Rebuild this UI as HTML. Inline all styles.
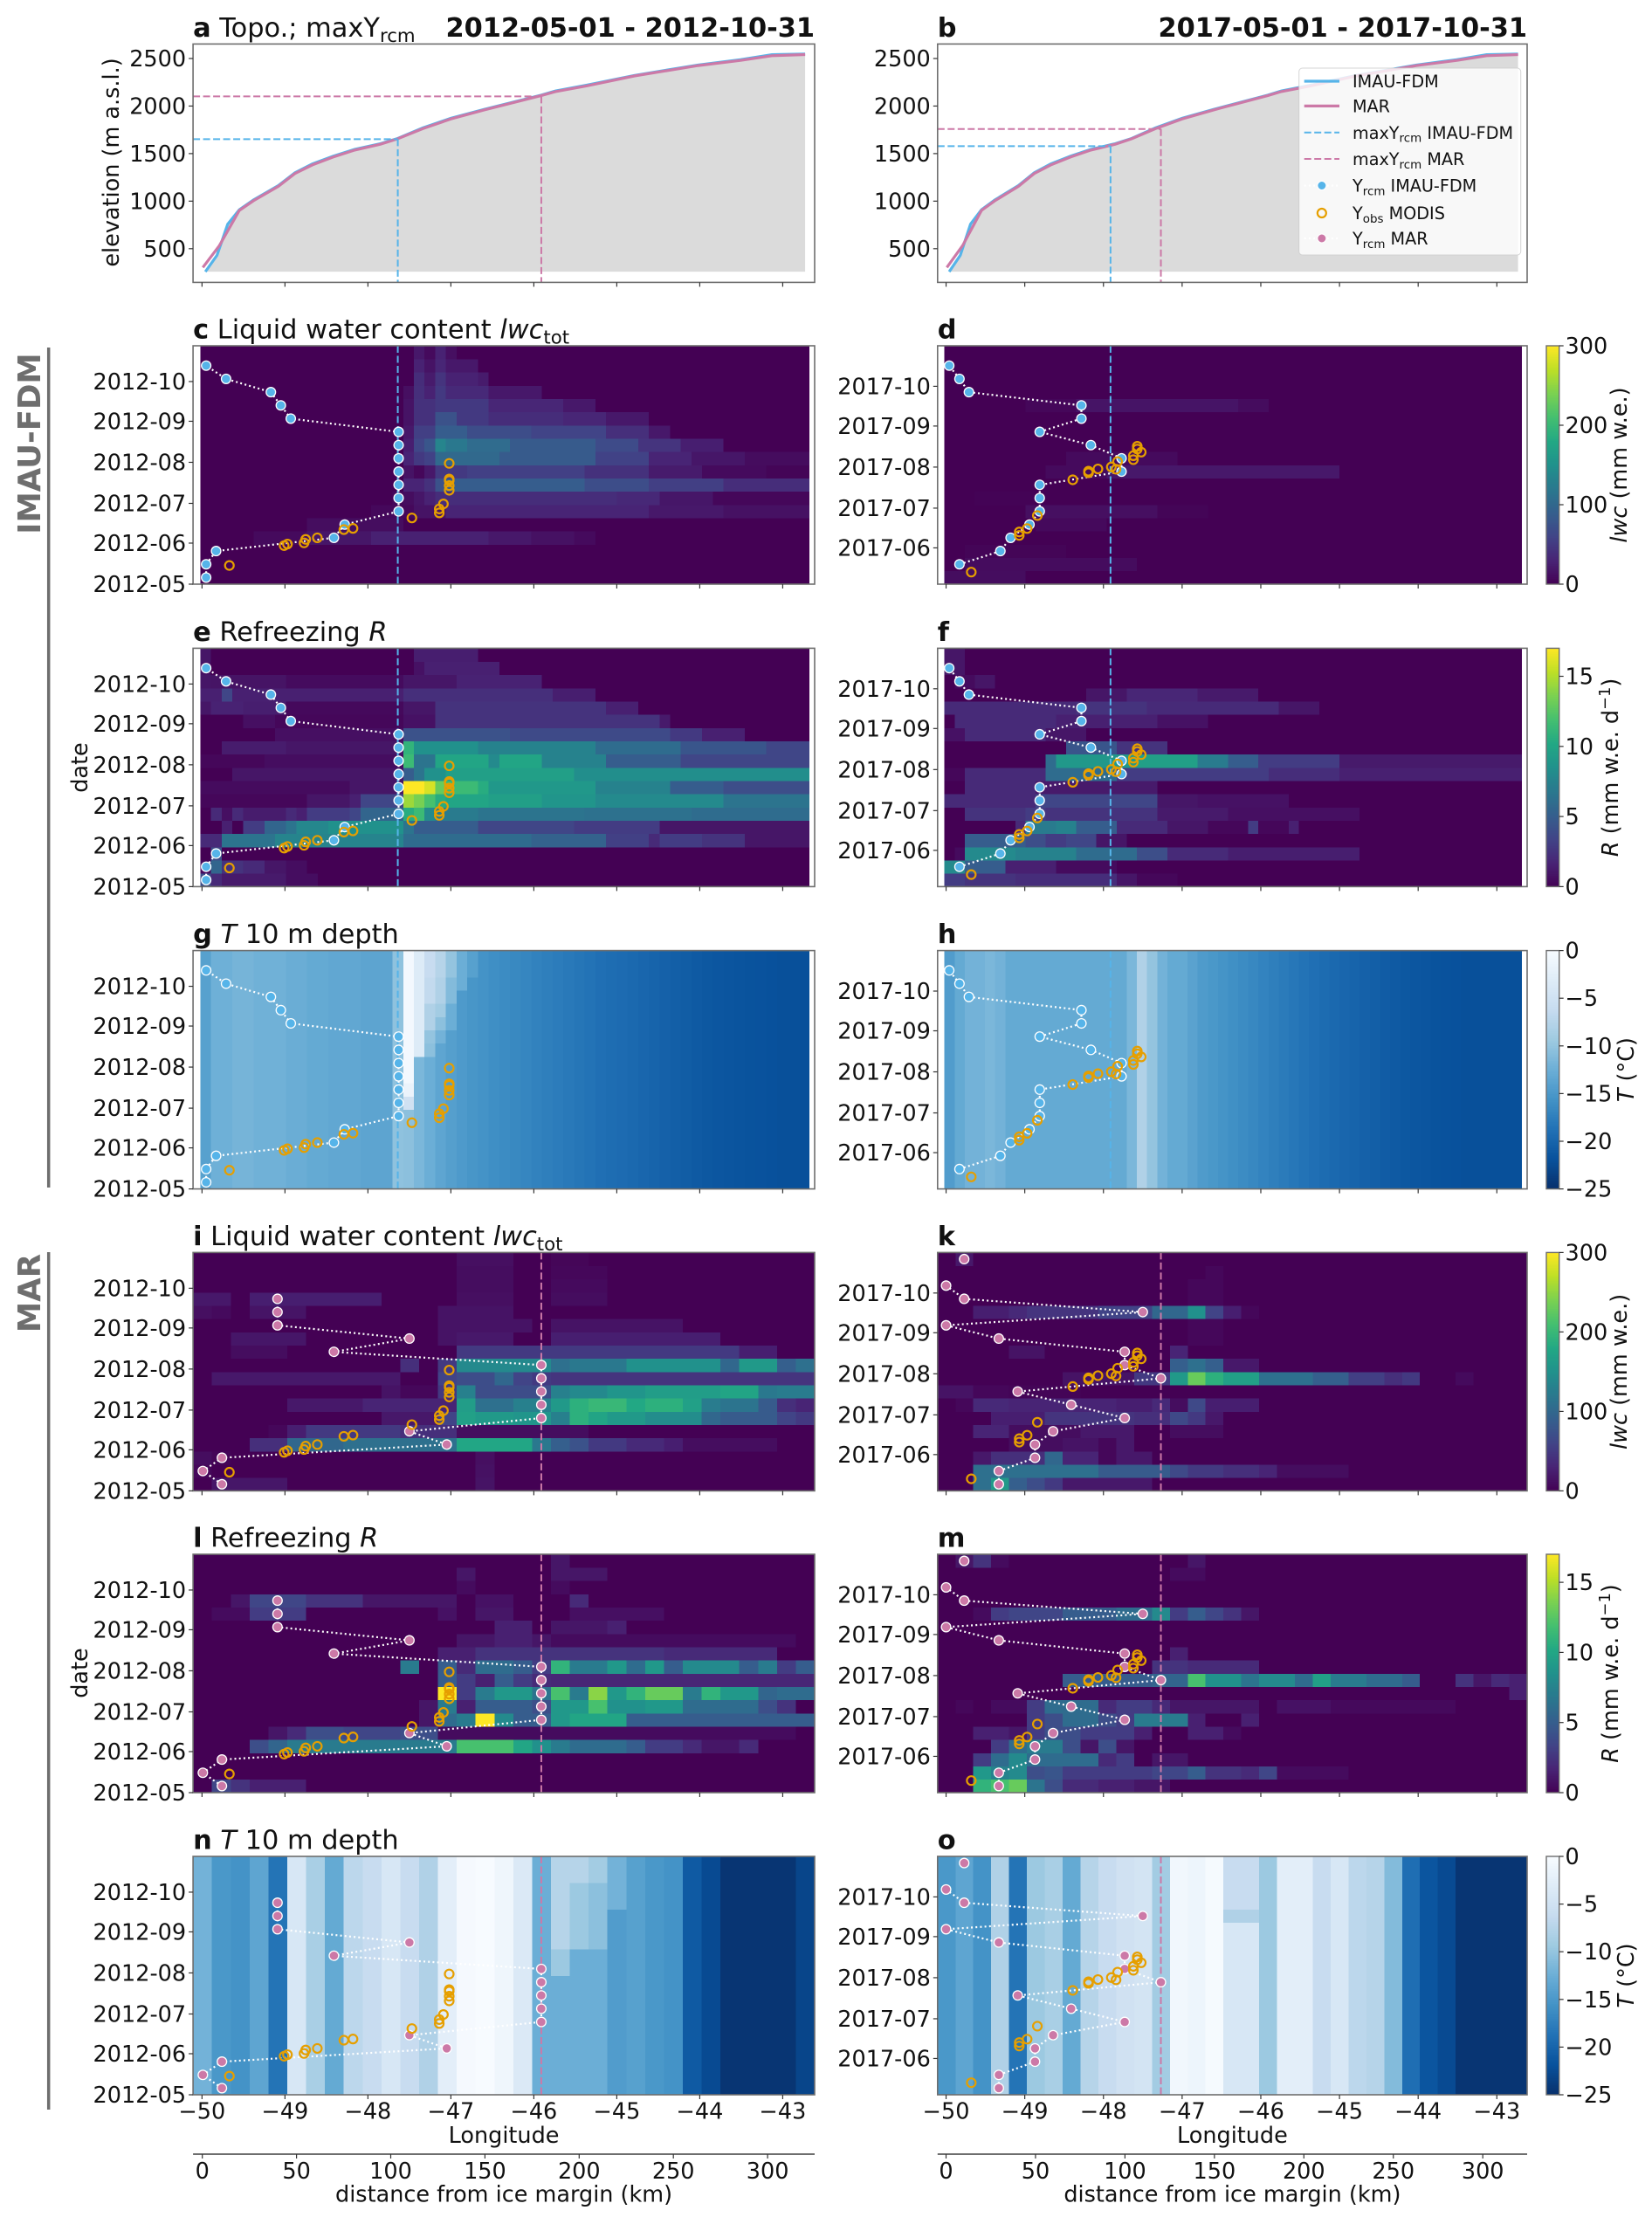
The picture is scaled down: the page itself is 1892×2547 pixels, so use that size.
<!DOCTYPE html>
<html lang="en">
<head>
<meta charset="utf-8">
<title>Liquid water, refreezing and firn temperature along a Greenland transect</title>
<style>
html,body{margin:0;padding:0;background:#fff}
svg{display:block}
text{font-family:"DejaVu Sans","Liberation Sans",sans-serif;fill:#111}
</style>
</head>
<body>
<svg id="figure" xmlns="http://www.w3.org/2000/svg" width="1892" height="2547" viewBox="0 0 1892 2547">
<rect x="0" y="0" width="1892" height="2547" fill="#fff"/>
<line x1="55.7" y1="398" x2="55.7" y2="1360" stroke="#6e6e6e" stroke-width="3.5"/>
<line x1="55.7" y1="1434" x2="55.7" y2="2416" stroke="#6e6e6e" stroke-width="3.5"/>
<text x="0" y="0" transform="translate(46,508) rotate(-90)" text-anchor="middle" font-size="35.5" font-weight="bold" style="fill:#6e6e6e">IMAU-FDM</text>
<text x="0" y="0" transform="translate(46,1481) rotate(-90)" text-anchor="middle" font-size="35.5" font-weight="bold" style="fill:#6e6e6e">MAR</text>
</svg>
<script>
// ---------- axis data ----------
const lonMin = -50.108;
const lonMax = -42.615;
const longitudeTicks = [-50, -49, -48, -47, -46, -45, -44, -43];
const kmTicks = [0, 50, 100, 150, 200, 250, 300];
const elevationTicks = [500, 1000, 1500, 2000, 2500];
const monthLabels2012 = ['2012-05', '2012-06', '2012-07', '2012-08', '2012-09', '2012-10'];
const monthDays2012 = [0, 31, 61, 92, 123, 153];
const monthLabels2017 = ['2017-06', '2017-07', '2017-08', '2017-09', '2017-10'];
const monthDays2017 = [27.4, 57.4, 88.4, 119.4, 149.4];
const lwcTicks = [0, 100, 200, 300];
const refreezeTicks = [0, 5, 10, 15];
const tempTicks = [0, -5, -10, -15, -20, -25];

// ---------- elevation profiles ----------
const profileLonFdm = [-49.96, -49.82, -49.69, -49.55, -49.38, -49.08, -48.88, -48.67, -48.42, -48.16, -47.85, -47.64, -47.34, -47.0, -46.6, -45.91, -45.74, -45.36, -44.79, -44.02, -43.51, -43.13, -42.73];
const profileElevFdm = [258, 430, 758, 910, 1012, 1164, 1299, 1392, 1472, 1545, 1605, 1660, 1770, 1872, 1965, 2115, 2158, 2220, 2322, 2432, 2488, 2540, 2548];
const profileLonMar = [-49.99, -49.79, -49.55, -49.38, -49.08, -48.88, -48.67, -48.42, -48.16, -47.85, -47.64, -47.34, -47.0, -46.6, -45.91, -45.74, -45.36, -44.79, -44.02, -43.51, -43.13, -42.73];
const profileElevMar = [303, 533, 902, 1004, 1156, 1291, 1381, 1463, 1537, 1598, 1656, 1762, 1865, 1959, 2111, 2152, 2213, 2316, 2426, 2480, 2529, 2541];

// ---------- maximum runoff line elevations / longitudes ----------
const maxYLonFdm2012 = -47.64, maxYElevFdm2012 = 1652;
const maxYLonMar2012 = -45.91, maxYElevMar2012 = 2102;
const maxYLonFdm2017 = -47.91, maxYElevFdm2017 = 1578;
const maxYLonMar2017 = -47.27, maxYElevMar2017 = 1758;

// ---------- Y_rcm series (one longitude per 10-day period) ----------
const periodDays = [5, 15, 25, 35, 45, 55, 65, 75, 85, 95, 105, 115, 125, 135, 145, 155, 165, 175];
const fdmLon2012 = [-49.95, -49.95, -49.83, -48.41, -48.28, -47.63, -47.63, -47.63, -47.63, -47.63, -47.63, -47.63, -48.93, -49.05, -49.17, -49.71, -49.95, null];
const fdmLon2017 = [null, -49.83, -49.31, -49.18, -48.94, -48.81, -48.81, -48.81, -47.77, -47.77, -48.16, -48.81, -48.28, -48.28, -49.71, -49.83, -49.96, null];
const marLon2012 = [-49.76, -49.99, -49.76, -47.05, -47.5, -45.91, -45.91, -45.91, -45.91, -45.91, -48.41, -47.5, -49.09, -49.09, -49.09, null, null, null];
const marLon2017 = [-49.33, -49.33, -48.87, -48.87, -48.64, -47.73, -48.41, -49.09, -47.27, -47.73, -47.73, -49.33, -50, -47.5, -49.77, -50, null, -49.77];

// ---------- Y_obs MODIS ----------
const obsLon2012 = [-49.67, -49.01, -48.97, -48.77, -48.75, -48.61, -48.29, -48.18, -47.47, -47.14, -47.14, -47.09, -47.02, -47.02, -47.02, -47.02, -47.02];
const obsDay2012 = [14.1, 29.1, 30.3, 31.2, 33.8, 35, 41.2, 42.1, 50, 53.8, 56.8, 60.6, 70.9, 74.4, 78.2, 79.4, 91.2];
const obsLon2017 = [-49.68, -49.07, -49.07, -48.97, -48.84, -48.39, -48.19, -48.19, -48.07, -47.9, -47.84, -47.82, -47.62, -47.62, -47.57, -47.57, -47.52];
const obsDay2017 = [9.1, 36.8, 39.4, 42, 51.8, 78.8, 84.1, 85.3, 87, 88.5, 86.8, 92.6, 94, 97, 102, 104.1, 99.7];

// ---------- heatmaps: rows bottom to top, each row as run pairs (cells, value) ----------
const lwcFdm2012 = [
[],[],[],
[5,0,5,8,6,18,11,27,4,20,4,14,2,8],
[10,0,9,10],
[16,0,4,6,3,15,10,30,9,30,7,20,8,14],
[18,0,1,6,1,10,1,18,1,28,17,38,4,34,5,18,9,5],
[19,0,2,30,1,42,1,75,13,88,6,70,7,55,8,38],
[19,0,1,15,1,5,1,20,3,50,11,56,6,42,5,22,6,8,4,3],
[19,0,1,30,1,50,1,58,6,102,9,85,5,58,4,30,5,18,6,9],
[19,0,1,25,1,62,1,80,1,135,2,120,4,105,8,85,4,68,4,45,4,25],
[19,0,1,20,2,55,3,88,6,70,7,60,4,40,2,20],
[19,0,1,15,2,42,2,75,3,50,7,38,4,32,4,20],
[19,0,1,15,2,42,5,50,7,32,3,20],
[19,0,1,12,1,40,1,28,1,50,4,35,5,20],
[20,0,1,38,1,22,1,45,3,28,1,22],
[20,0,1,28,1,15,1,32,3,20],
[20,0,1,20,1,8,1,28,1,12]];
const lwcFdm2017 = [
[8,10],
[2,0,17,9],
[2,0,10,3],
[],
[9,0,7,7],
[8,0,13,12,5,3],
[3,0,6,2],
[],
[10,0,6,8,23,20],
[12,0,11,8],
[],[],[],
[8,0,5,5,16,16,3,9],
[],[],[],[]];
const refFdm2012 = [
[1,4,1,2,6,1.2,3,.6],
[1,.5,1,5.5,2,2.5,2,2,2,1,2,.6],
[1,0,1,4],
[2,2,5,6.5,12,7.6,12,6,7,5.3,4,3.2,1,2,4,3,4,2.5,6,1],
[2,0,1,1.5,1,0,2,3,2,5.5,1,6.5,3,7.8,7,8.5,1,6.5,6,5,9,3.5,8,3,14,1],
[1,0,1,2,1,.7,1,2,4,1.3,1,2,1,1.5,4,3,1,3.5,4,5.5,1,10.5,1,11.5,1,8,4,7,10,6.5,10,6.3,11,6],
[10,.3,4,1,1,1.5,4,3.5,1,14.5,1,13.5,1,12,1,10.5,4,10,5,9.5,5,8.8,12,8,8,6.5],
[14,.5,5,1,2,17,1,16,1,13,3,11.5,1,10.5,10,9,7,7.5,5,5,8,4],
[3,0,16,1,1,5,1,6.5,2,8.5,12,9.5,22,8.3],
[6,.3,13,.6,1,11.5,2,6.5,5,10,1,8,4,10,6,7.5,7,5,12,3.5],
[2,0,6,1.3,11,1,1,11,6,8.5,11,7.5,8,6,8,4.5,4,3.5],
[7,0,12,.7,10,4.3,15,3.8,3,2.8,4,1.5],
[4,0,3,.7,12,.3,3,.8,21,2.5,1,1.2],
[1,1,3,1.6,4,1.4,11,.4,3,1,16,2.5,3,1.5],
[2,1.5,1,3.5,16,1.5,14,2.3,4,1.4],
[1,1,7,.9,11,.5,5,1,8,1.6],
[1,.8,19,0,1,.8,7,1.5],
[1,1,19,0,6,1.4]];
const refFdm2017 = [
[2,3,5,2.5,10,2.2,2,1,4,.3],
[2,8,4,5,5,1.5,6,.5],
[1,0,1,.5,5,8,6,7.5,6,6,3,4,6,2,13,1.4],
[2,0,4,5,2,5,2,4,2,3,3,3.5,3,1],
[7,0,1,2,3,7,2,7.5,4,5,5,2,4,1,4,.3,1,3,3,.3,1,1.5],
[2,0,6,2.5,2,3,11,2.5,7,1.2,13,.7],
[9,2,12,3.5,4,1,9,.8],
[2,0,7,2,12,1.2],
[2,.3,8,2,7,6,15,3,7,2.2,18,1.5],
[10,0,1,6,8,9,6,9.5,3,7,3,5,8,3,18,1.2],
[12,0,5,4.5,5,2.5],
[2,.8,8,2,4,1],
[1,0,10,2,10,1.5,5,.8],
[13,2,7,2.5,13,2,4,1],
[14,0,4,1,7,1.8,6,1.2],
[1,0,2,.5,2,1],
[2,1],
[2,1]];
const lwcMar2012 = [
[1,0,4,18,10,0,1,15],
[1,5,14,0,1,14],
[1,10,1,3,13,0,1,12],
[3,0,2,40,3,100,6,110,4,178,1,120,1,90,1,75,2,50,2,35,1,25,5,10],
[4,0,1,5,1,25,5,50,3,40,7,10],
[10,0,3,20,1,60,1,170,2,160,2,155,1,130,1,190,1,175,2,160,3,145,1,100,3,85,1,60,1,50],
[5,0,4,20,5,30,1,165,2,110,2,130,1,160,1,190,2,200,1,180,2,190,1,170,1,125,2,115,1,85,1,40,1,30],
[10,0,1,15,2,5,1,50,1,130,4,70,1,130,2,140,2,155,4,165,2,175,1,120,2,125],
[1,0,10,20,2,0,1,60,2,70,1,100,1,60,1,50,14,45],
[11,0,1,40,1,0,1,50,5,140,1,110,3,120,5,150,1,100,2,160,1,90,1,110],
[2,0,3,10,9,0,15,50,2,25],
[2,0,4,18,7,0,1,15,3,20,2,0,9,25],
[13,0,5,15,1,0,7,15],
[1,12,1,8,1,0,3,16,7,0,4,15],
[2,20,1,0,7,25,4,0,3,12,2,0,3,10],
[14,0,3,10,2,0,3,8],
[14,0,3,10,2,0,3,5],
[14,0,3,12,2,0,2,4]];
const lwcMar2017 = [
[2,0,1,110,1,160,1,90,1,70,1,50,5,20],
[2,0,7,110,4,85,1,65,2,50,2,40,1,30,4,10],
[2,0,1,20,3,40,1,100,2,30,1,5,2,20],
[4,0,3,10,2,15,1,5,1,20],
[2,0,2,30,4,10,3,20,2,0,3,10],
[3,0,3,25,5,45,2,40,1,65,1,50,1,20],
[1,0,1,5,2,35,6,30,2,25,1,35,1,10,1,65,2,25,1,25],
[2,15,2,5,4,3],
[7,0,4,15,2,50,1,160,1,230,1,190,2,170,3,110,2,90,2,55,1,40,1,50,2,0,1,8],
[13,0,1,90,1,110,1,90,2,20],
[4,0,2,15,7,0,1,30],
[14,0,2,5],
[14,0,2,5],
[2,0,2,25,1,35,4,45,3,60,2,100,1,150,1,60,1,25,1,5],
[14,0,2,5],
[14,0,2,5],
[15,0,1,5],
[1,0,1,20]];
const refMar2012 = [
[1,0,1,3.5,1,2.5,3,1.5],
[],[],
[3,0,1,4,1,5.5,9,7,3,12,1,10,1,8.5,1,7,3,6,1,5,2,3,1,2,2,1,1,2],
[4,0,1,1,1,2,2,4,2,3.5,1,3.5,2,4,19,.5],
[12,0,1,1,1,6,1,7,1,17,1,8,2,5,1,9,3,10,10,5],
[12,0,1,1,1,7,1,1.5,3,5,1,4,2,9,1,12,2,8.5,2,9,1,6,3,6,1,4,1,2.5],
[13,0,1,17,1,3,1,7,2,9,1,6.5,1,12,1,7,1,14,1,9,1,11,2,13,1,7,1,11,2,9,1,5.5,2,6],
[13,0,1,5,1,3,1,1.5,1,5,1,3,1,2,14,1.8],
[11,0,1,7,1,0,1,5,1,2,2,6,1,5,1,3,1,11,2,7,1,9,1,6,1,9,1,5,3,8,1,5,1,7,1,3,1,5],
[13,0,2,1.5,10,2.5,6,2],
[14,0,2,1,2,1.5,1,1,13,.5],
[16,0,2,1.5,1,0,3,1,1,1.5],
[1,0,2,.5,3,3,7,0,1,.8,1,0,2,1,3,0,5,.7],
[2,0,1,1,3,3.5,3,2.5,5,1,1,0,2,.8,3,0,1,2],
[14,0,1,.5,4,0,1,.5],
[14,0,1,1,4,0,3,1],
[19,0,1,1]];
const refMar2017 = [
[2,0,1,11,1,12,1,13,1,6.5,1,4,2,2,2,1.5,2,1],
[2,0,1,9,1,7.5,1,8,1,4,1,4.5,5,3,2,3.5,1,5,2,2.5,1,2,1,3.5,4,.5],
[2,0,1,3,1,6,1,8,2,6,2,6,1,2,1,3,1,0,1,1,1,1],
[3,0,1,3,1,6,2,7,1,4,1,1,1,4,1,1],
[2,0,2,1.5,1,1,1,3,2,4,2,3,1,3,1,1.5,2,0,2,1.5,1,.5],
[5,0,1,3,1,4,2,6,1,4,1,3,3,7,1,1.5,2,0,1,1.5],
[1,0,1,.3,1,0,2,.5,1,3,3,6,1,2,2,3,1,2,1,1,4,1,1,0,3,.8,7,.4],
[32,0,1,1.5],
[7,0,5,5,2,5.5,1,12,2,8.5,1,6.5,2,8,1,6,1,9.5,2,7,2,6,1,5,2,0,1,2.5,1,1,1,2,1,1.5],
[12,0,2,2.5,4,2],
[13,0,1,1.5],
[],[],
[2,0,1,.5,1,3,3,3.5,3,5,2,6,1,8,1,3,1,5,1,3.5,1,2.5,1,1],
[],[],
[13,0,2,.5],
[1,0,1,1,1,2.5,1,.5,10,0,1,1]];

// ---------- 10 m temperature: per-column values plus time-varying patches [column, fromRow, toRow, value] ----------
const tempFdm2012Cols = [1,-14,2,-12.3,2,-11.8,3,-12.2,2,-12.6,2,-13,3,-13.3,3,-13.6,1,-10.3,1,-10.5,1,-11.5,1,-12.5,1,-13.5,1,-14.2,1,-14.7,1,-15.2,1,-15.5,1,-15.9,1,-16.2,1,-16.5,1,-16.8,1,-17.1,1,-17.4,1,-17.7,1,-18,1,-18.3,1,-18.6,1,-18.9,1,-19.1,1,-19.3,1,-19.5,1,-19.8,1,-20,1,-20.3,1,-20.5,1,-20.7,1,-21,1,-21.2,1,-21.4,1,-21.5,1,-21.6,1,-21.7,1,-21.8,1,-21.9,3,-22];
const tempFdm2012Patches = [[19,6,6,-5],[19,7,7,-1.5],[19,8,17,-.5],[20,10,17,-3.2],[21,10,10,-10.5],[21,11,11,-10],[21,12,13,-8],[21,14,15,-6.5],[21,16,17,-6],[22,11,11,-12],[22,12,12,-10.5],[22,13,13,-9],[22,14,15,-8],[22,16,17,-7.5],[23,12,13,-12.5],[23,14,15,-11],[23,16,17,-10],[24,15,17,-12.5],[25,16,17,-14]];
const tempFdm2017Cols = [1,-14.5,1,-13,2,-12,1,-11.5,1,-12,12,-13,1,-11.5,1,-8,1,-10,1,-12,2,-13,1,-13.8,1,-14.6,1,-15,1,-15.4,1,-15.8,1,-16.2,1,-16.6,1,-17,1,-17.4,1,-17.8,1,-18.2,1,-18.6,1,-18.9,1,-19.2,1,-19.5,1,-19.8,1,-20,1,-20.3,1,-20.5,1,-20.8,1,-21,1,-21.2,1,-21.4,1,-21.5,1,-21.7,1,-21.8,1,-21.9,6,-22];
const tempFdm2017Patches = [];
const tempMar2012Cols = [1,-12,1,-15,1,-15.5,1,-13.5,1,-18.5,1,-4,1,-8.5,1,-13,1,-7,1,-6,1,-4,1,-6,1,-8,1,-2.5,1,-.3,1,0,1,-1,1,-3.5,4,-12.5,1,-14.5,1,-14,1,-15,1,-15.5,1,-21,1,-22.5,4,-24.5,1,-23];
const tempMar2012Patches = [[19,9,10,-9.5],[19,11,17,-7.5],[20,11,15,-9.5],[20,16,17,-7.5],[21,11,15,-10.5],[21,16,17,-9],[22,14,17,-12]];
const tempMar2017Cols = [1,-15,1,-13.5,1,-15.5,1,-8,1,-18.5,1,-9.5,1,-8.5,1,-13,1,-7.5,1,-6,1,-5,1,-4.5,1,-9,1,-.8,1,-1.2,1,-.2,1,-4,1,-4,1,-9.5,1,-2.5,1,-2.5,1,-6,1,-4,1,-7,1,-7.5,1,-11,1,-19,1,-21.5,1,-22.5,4,-24.5];
const tempMar2017Patches = [[16,14,17,-6],[17,14,17,-6],[16,13,13,-8],[17,13,13,-8]];

// ---------- layout (pixels) ----------
const SVGNS = 'http://www.w3.org/2000/svg';
const figure = document.getElementById('figure');
const columnLeft = {x: 221.1, w: 711.9, kmX0: 231.7, kmScale: 2.158};
const columnRight = {x: 1073.8, w: 675.2, kmX0: 1083.5, kmScale: 2.049};
const PANEL_H = 273;
const SPINE = '#6e6e6e';
const BLUE = '#56B4E9', PINK = '#CC79A7', ORANGE = '#E69F00';

const VIRIDIS = ['#440154','#482475','#414487','#355f8d','#2a788e','#21918c','#22a884','#44bf70','#7ad151','#bddf26','#fde725'];
const BLUES = ['#f7fbff','#deebf7','#c6dbef','#9ecae1','#6baed6','#4292c6','#2171b5','#08519c','#08306b'];
function hexRgb(h){return [parseInt(h.slice(1,3),16),parseInt(h.slice(3,5),16),parseInt(h.slice(5,7),16)];}
function ramp(stops,t){
  t = Math.max(0,Math.min(1,t));
  const p = t*(stops.length-1), i = Math.min(stops.length-2,Math.floor(p)), f = p-i;
  const a = hexRgb(stops[i]), b = hexRgb(stops[i+1]);
  return 'rgb('+[0,1,2].map(k=>Math.round(a[k]+(b[k]-a[k])*f)).join(',')+')';
}
const lwcColor = v => ramp(VIRIDIS, v/300);
const refColor = v => ramp(VIRIDIS, v/17);
const tempColor = v => ramp(BLUES, -v/25);

function make(parent,tag,attrs){
  const el = document.createElementNS(SVGNS,tag);
  for(const k in attrs) el.setAttribute(k,attrs[k]);
  parent.appendChild(el);
  return el;
}
function xOf(col,lon){return col.x+(lon-lonMin)*col.w/(lonMax-lonMin);}
function elevY(top,e){return top+16.6+(2500-e)*0.1089;}
function dayY(top,d){return top+PANEL_H-d*PANEL_H/180;}
function minus(v){return String(v).replace('-','\u2212');}

// text made of styled pieces: [string, style] with b=bold, i=italic, s=subscript, S=superscript
function richText(el,parts,size){
  let shift = 0;
  parts.forEach(p=>{
    const t = document.createElementNS(SVGNS,'tspan');
    t.textContent = p[0];
    const st = p[1]||'';
    if(st.includes('b')) t.setAttribute('font-weight','bold');
    if(st.includes('i')) t.setAttribute('font-style','italic');
    let want = 0;
    if(st.includes('s')) want = size*0.2;
    if(st.includes('S')) want = -size*0.36;
    if(want!==0) t.setAttribute('font-size',size*0.7);
    if(want!==shift){t.setAttribute('dy',want-shift);shift=want;}
    el.appendChild(t);
  });
}

function expandRow(row,n){
  const out = [];
  for(let i=0;i+1<row.length;i+=2) for(let k=0;k<row[i];k++) out.push(row[i+1]);
  while(out.length<n) out.push(0);
  return out.slice(0,n);
}
function expandTemp(cols,patches,n){
  const base = expandRow(cols,n), rows = [];
  for(let r=0;r<18;r++) rows.push(base.slice());
  patches.forEach(p=>{for(let r=p[1];r<=p[2];r++) rows[r][p[0]]=p[3];});
  return rows;
}

function drawHeat(g,col,top,rows,color,lonStart,cell,n){
  rows.forEach((row,r)=>{
    const vals = row;
    for(let c=0;c<n;c++){
      const x0 = xOf(col,lonStart+c*cell), x1 = xOf(col,lonStart+(c+1)*cell);
      const y1 = dayY(top,r*10), y0 = dayY(top,r*10+10);
      const rect = make(g,'rect',{x:x0.toFixed(2),y:y0.toFixed(2),width:(x1-x0+0.4).toFixed(2),height:(y1-y0+0.4).toFixed(2),fill:color(vals[c]),'shape-rendering':'crispEdges'});
      
      
    }
  });
}

function drawSpines(g,col,top){
  const box = make(g,'rect',{x:col.x,y:top,width:col.w,height:PANEL_H,fill:'none',stroke:SPINE,'stroke-width':1.6});
  
  
}
function drawXTicks(g,col,top){
  longitudeTicks.forEach(l=>{
    const x = xOf(col,l);
    const tick = make(g,'line',{x1:x,x2:x,y1:top+PANEL_H,y2:top+PANEL_H+5,stroke:'#333','stroke-width':1.2});
    
    
  });
}
function drawDateTicks(g,col,top,labels,days){
  labels.forEach((lab,i)=>{
    const y = dayY(top,days[i]);
    const tick = make(g,'line',{x1:col.x-5,x2:col.x,y1:y,y2:y,stroke:'#333','stroke-width':1.2});
    
    
    const t = make(g,'text',{x:col.x-8,y:y+9,'text-anchor':'end','font-size':25.5});
    t.textContent = lab;
    
    
  });
}
function drawTitle(g,col,top,parts){
  const t = make(g,'text',{x:col.x,y:top-8.5,'font-size':30.4});
  richText(t,parts,30.4);
  
  
}
function drawRcmSeries(g,col,top,lons,fill){
  let seg = [];
  const flush = ()=>{
    if(seg.length>1){
      const line = make(g,'polyline',{points:seg.join(' '),fill:'none',stroke:'#fff','stroke-width':2.2,'stroke-dasharray':'2 3.2'});
      
      
    }
    seg = [];
  };
  lons.forEach((l,i)=>{
    if(l===null){flush();return;}
    seg.push(xOf(col,l).toFixed(1)+','+dayY(top,periodDays[i]).toFixed(1));
  });
  flush();
  lons.forEach((l,i)=>{
    if(l===null) return;
    const c = make(g,'circle',{cx:xOf(col,l),cy:dayY(top,periodDays[i]),r:5.4,fill:fill,stroke:'#fff','stroke-width':1.3});
    
    
  });
}
function drawObs(g,col,top,lons,days){
  lons.forEach((l,i)=>{
    const c = make(g,'circle',{cx:xOf(col,l),cy:dayY(top,days[i]),r:5,fill:'none',stroke:ORANGE,'stroke-width':2.2});
    
    
  });
}

function drawHeatPanel(spec){
  const col = spec.col, top = spec.top;
  const g = make(figure,'g',{});
  
  
  const n = spec.model==='fdm' ? 57 : 33;
  const lonStart = spec.model==='fdm' ? -50.02 : lonMin;
  const cell = spec.model==='fdm' ? 0.1287 : (lonMax-lonMin)/33;
  drawHeat(g,col,top,spec.rows,spec.color,lonStart,cell,n);
  const vx = xOf(col,spec.maxLon);
  const v = make(g,'line',{x1:vx,x2:vx,y1:top,y2:top+PANEL_H,stroke:spec.model==='fdm'?BLUE:PINK,'stroke-width':2,'stroke-dasharray':'8 3.5'});
  
  
  drawRcmSeries(g,col,top,spec.series,spec.model==='fdm'?BLUE:PINK);
  drawObs(g,col,top,spec.obsLon,spec.obsDay);
  drawSpines(g,col,top);
  drawXTicks(g,col,top);
  drawDateTicks(g,col,top,spec.labels,spec.days);
  drawTitle(g,col,top,spec.title);
}

function drawColorbar(top,color,lo,hi,ticks,labelParts,labelX){
  const g = make(figure,'g',{});
  
  
  const x = 1771, w = 14.7, steps = 128;
  for(let i=0;i<steps;i++){
    const v = lo+(hi-lo)*(i+.5)/steps;
    const r = make(g,'rect',{x:x,y:(top+PANEL_H*(1-(i+1)/steps)).toFixed(2),width:w,height:(PANEL_H/steps+.4).toFixed(2),fill:color(v),'shape-rendering':'crispEdges'});
    
    
  }
  const box = make(g,'rect',{x:x,y:top,width:w,height:PANEL_H,fill:'none',stroke:SPINE,'stroke-width':1.4});
  
  
  ticks.forEach(tv=>{
    const y = top+PANEL_H*(1-(tv-lo)/(hi-lo));
    const tick = make(g,'line',{x1:x+w,x2:x+w+5,y1:y,y2:y,stroke:'#333','stroke-width':1.2});
    
    
    const t = make(g,'text',{x:1792.5,y:y+9,'font-size':25.5});
    t.textContent = minus(tv);
    
    
  });
  const lab = make(g,'text',{transform:'translate('+labelX+','+(top+PANEL_H/2)+') rotate(-90)','text-anchor':'middle','font-size':25.5});
  richText(lab,labelParts,25.5);
  
  
}

function drawTopoPanel(col,top,spec){
  const g = make(figure,'g',{});
  
  
  const floorY = elevY(top,258);
  const pts = profileLonFdm.map((l,i)=>xOf(col,l).toFixed(1)+','+elevY(top,profileElevFdm[i]).toFixed(1));
  pts.push(xOf(col,-42.73).toFixed(1)+','+floorY,xOf(col,-49.96).toFixed(1)+','+floorY);
  const area = make(g,'polygon',{points:pts.join(' '),fill:'#dbdbdb'});
  
  
  const fdm = make(g,'polyline',{points:profileLonFdm.map((l,i)=>xOf(col,l).toFixed(1)+','+elevY(top,profileElevFdm[i]).toFixed(1)).join(' '),fill:'none',stroke:BLUE,'stroke-width':3.2});
  
  
  const mar = make(g,'polyline',{points:profileLonMar.map((l,i)=>xOf(col,l).toFixed(1)+','+elevY(top,profileElevMar[i]).toFixed(1)).join(' '),fill:'none',stroke:PINK,'stroke-width':3.2});
  
  
  [[spec.fdmLon,spec.fdmElev,BLUE],[spec.marLon,spec.marElev,PINK]].forEach(d=>{
    const x = xOf(col,d[0]), y = elevY(top,d[1]);
    const h = make(g,'line',{x1:col.x,x2:x,y1:y,y2:y,stroke:d[2],'stroke-width':2,'stroke-dasharray':'8 3.5'});
    
    
    const v = make(g,'line',{x1:x,x2:x,y1:y,y2:top+PANEL_H,stroke:d[2],'stroke-width':2,'stroke-dasharray':'8 3.5'});
    
    
  });
  drawSpines(g,col,top);
  drawXTicks(g,col,top);
  elevationTicks.forEach(e=>{
    const y = elevY(top,e);
    const tick = make(g,'line',{x1:col.x-5,x2:col.x,y1:y,y2:y,stroke:'#333','stroke-width':1.2});
    
    
    const t = make(g,'text',{x:col.x-8,y:y+9,'text-anchor':'end','font-size':25.5});
    t.textContent = e;
    
    
  });
  drawTitle(g,col,top,spec.title);
  const range = make(g,'text',{x:col.x+col.w,y:top-8.5,'text-anchor':'end','font-size':30.4,'font-weight':'bold'});
  range.textContent = spec.range;
  
  
}

function drawLegend(){
  const g = make(figure,'g',{});
  
  
  const box = make(g,'rect',{x:1487.7,y:78,width:254,height:214,rx:4,fill:'#fff','fill-opacity':.8,stroke:'#ccc','stroke-opacity':.8,'stroke-width':1});
  
  
  const x0 = 1493.7, x1 = 1534, tx = 1549, mid = (x0+x1)/2;
  const entries = [
    {y:93,kind:'line',c:BLUE,parts:[['IMAU-FDM']]},
    {y:121.4,kind:'line',c:PINK,parts:[['MAR']]},
    {y:151.8,kind:'dash',c:BLUE,parts:[['maxY'],['rcm','s'],[' IMAU-FDM']]},
    {y:182,kind:'dash',c:PINK,parts:[['maxY'],['rcm','s'],[' MAR']]},
    {y:212.5,kind:'dot',c:BLUE,parts:[['Y'],['rcm','s'],[' IMAU-FDM']]},
    {y:244,kind:'ring',c:ORANGE,parts:[['Y'],['obs','s'],[' MODIS']]},
    {y:273,kind:'dot',c:PINK,parts:[['Y'],['rcm','s'],[' MAR']]}
  ];
  entries.forEach(en=>{
    if(en.kind==='line'||en.kind==='dash'){
      const h = make(g,'line',{x1:x0,x2:x1,y1:en.y,y2:en.y,stroke:en.c,'stroke-width':en.kind==='line'?3.2:2,'stroke-dasharray':en.kind==='dash'?'8 3.5':'none'});
      
      
    } else if(en.kind==='dot'){
      const h = make(g,'line',{x1:x0,x2:x1,y1:en.y,y2:en.y,stroke:'#fff','stroke-width':2.2,'stroke-dasharray':'2 3.2'});
      
      
      const m = make(g,'circle',{cx:mid,cy:en.y,r:5,fill:en.c,stroke:'#fff','stroke-width':1});
      
      
    } else {
      const m = make(g,'circle',{cx:mid,cy:en.y,r:5,fill:'none',stroke:en.c,'stroke-width':2.2});
      
      
    }
    const t = make(g,'text',{x:tx,y:en.y+7,'font-size':19.2});
    richText(t,en.parts,19.2);
    
    
  });
}

function drawBottomAxes(col){
  const g = make(figure,'g',{});
  
  
  const mid = col.x+col.w/2;
  longitudeTicks.forEach(l=>{
    const t = make(g,'text',{x:xOf(col,l),y:2426.5,'text-anchor':'middle','font-size':25.5});
    t.textContent = minus(l);
    
    
  });
  const lonTitle = make(g,'text',{x:mid,y:2454,'text-anchor':'middle','font-size':25.5});
  lonTitle.textContent = 'Longitude';
  
  
  const axis = make(g,'line',{x1:col.x,x2:col.x+col.w,y1:2467,y2:2467,stroke:SPINE,'stroke-width':2});
  
  
  kmTicks.forEach(km=>{
    const x = col.kmX0+km*col.kmScale;
    const tick = make(g,'line',{x1:x,x2:x,y1:2467,y2:2472,stroke:'#333','stroke-width':1.2});
    
    
    const t = make(g,'text',{x:x,y:2495,'text-anchor':'middle','font-size':25.5});
    t.textContent = km;
    
    
  });
  const kmTitle = make(g,'text',{x:mid,y:2521.5,'text-anchor':'middle','font-size':25.5});
  kmTitle.textContent = 'distance from ice margin (km)';
  
  
}

function rotatedLabel(x,y,str,name){
  const t = make(figure,'text',{transform:'translate('+x+','+y+') rotate(-90)','text-anchor':'middle','font-size':25.5});
  t.textContent = str;
  
  
}

// ---------- assemble ----------
const rowTops = {top:50.4, c:396, e:742.4, g:1088.6, i:1434.4, l:1780, n:2126};
const decode = (rows,n)=>rows.map(r=>expandRow(r,n));

drawTopoPanel(columnLeft,rowTops.top,{name:'panel-a-topography',title:[['a','b'],[' Topo.; maxY'],['rcm','s']],range:'2012-05-01 - 2012-10-31',fdmLon:maxYLonFdm2012,fdmElev:maxYElevFdm2012,marLon:maxYLonMar2012,marElev:maxYElevMar2012});
drawTopoPanel(columnRight,rowTops.top,{name:'panel-b-topography',title:[['b','b']],range:'2017-05-01 - 2017-10-31',fdmLon:maxYLonFdm2017,fdmElev:maxYElevFdm2017,marLon:maxYLonMar2017,marElev:maxYElevMar2017});
drawLegend();

const y2012 = {col:columnLeft,labels:monthLabels2012,days:monthDays2012,obsLon:obsLon2012,obsDay:obsDay2012};
const y2017 = {col:columnRight,labels:monthLabels2017,days:monthDays2017,obsLon:obsLon2017,obsDay:obsDay2017};
const fdm12 = {model:'fdm',series:fdmLon2012,maxLon:maxYLonFdm2012};
const fdm17 = {model:'fdm',series:fdmLon2017,maxLon:maxYLonFdm2017};
const mar12 = {model:'mar',series:marLon2012,maxLon:maxYLonMar2012};
const mar17 = {model:'mar',series:marLon2017,maxLon:maxYLonMar2017};

drawHeatPanel({...y2012,...fdm12,name:'panel-c-lwc-imau-2012',top:rowTops.c,rows:decode(lwcFdm2012,57),color:lwcColor,title:[['c','b'],[' Liquid water content '],['lwc','i'],['tot','s']]});
drawHeatPanel({...y2017,...fdm17,name:'panel-d-lwc-imau-2017',top:rowTops.c,rows:decode(lwcFdm2017,57),color:lwcColor,title:[['d','b']]});
drawHeatPanel({...y2012,...fdm12,name:'panel-e-refreezing-imau-2012',top:rowTops.e,rows:decode(refFdm2012,57),color:refColor,title:[['e','b'],[' Refreezing '],['R','i']]});
drawHeatPanel({...y2017,...fdm17,name:'panel-f-refreezing-imau-2017',top:rowTops.e,rows:decode(refFdm2017,57),color:refColor,title:[['f','b']]});
drawHeatPanel({...y2012,...fdm12,name:'panel-g-temperature-imau-2012',top:rowTops.g,rows:expandTemp(tempFdm2012Cols,tempFdm2012Patches,57),color:tempColor,title:[['g','b'],[' '],['T','i'],[' 10 m depth']]});
drawHeatPanel({...y2017,...fdm17,name:'panel-h-temperature-imau-2017',top:rowTops.g,rows:expandTemp(tempFdm2017Cols,tempFdm2017Patches,57),color:tempColor,title:[['h','b']]});
drawHeatPanel({...y2012,...mar12,name:'panel-i-lwc-mar-2012',top:rowTops.i,rows:decode(lwcMar2012,33),color:lwcColor,title:[['i','b'],[' Liquid water content '],['lwc','i'],['tot','s']]});
drawHeatPanel({...y2017,...mar17,name:'panel-k-lwc-mar-2017',top:rowTops.i,rows:decode(lwcMar2017,33),color:lwcColor,title:[['k','b']]});
drawHeatPanel({...y2012,...mar12,name:'panel-l-refreezing-mar-2012',top:rowTops.l,rows:decode(refMar2012,33),color:refColor,title:[['l','b'],[' Refreezing '],['R','i']]});
drawHeatPanel({...y2017,...mar17,name:'panel-m-refreezing-mar-2017',top:rowTops.l,rows:decode(refMar2017,33),color:refColor,title:[['m','b']]});
drawHeatPanel({...y2012,...mar12,name:'panel-n-temperature-mar-2012',top:rowTops.n,rows:expandTemp(tempMar2012Cols,tempMar2012Patches,33),color:tempColor,title:[['n','b'],[' '],['T','i'],[' 10 m depth']]});
drawHeatPanel({...y2017,...mar17,name:'panel-o-temperature-mar-2017',top:rowTops.n,rows:expandTemp(tempMar2017Cols,tempMar2017Patches,33),color:tempColor,title:[['o','b']]});

const lwcLabel = [['lwc','i'],[' (mm w.e.)']];
const refLabel = [['R','i'],[' (mm w.e. d'],['\u22121','S'],[')']];
const tempLabel = [['T','i'],[' (\u00b0C)']];
drawColorbar(rowTops.c,lwcColor,0,300,lwcTicks,lwcLabel,1863);
drawColorbar(rowTops.e,refColor,0,17,refreezeTicks,refLabel,1853);
drawColorbar(rowTops.g,tempColor,-25,0,tempTicks,tempLabel,1871);
drawColorbar(rowTops.i,lwcColor,0,300,lwcTicks,lwcLabel,1863);
drawColorbar(rowTops.l,refColor,0,17,refreezeTicks,refLabel,1853);
drawColorbar(rowTops.n,tempColor,-25,0,tempTicks,tempLabel,1871);

rotatedLabel(136,186,'elevation (m a.s.l.)','elevation-axis-title');
rotatedLabel(100,879,'date','date-axis-title-imau');
rotatedLabel(100,1916,'date','date-axis-title-mar');
drawBottomAxes(columnLeft);
drawBottomAxes(columnRight);
</script>
</body>
</html>
